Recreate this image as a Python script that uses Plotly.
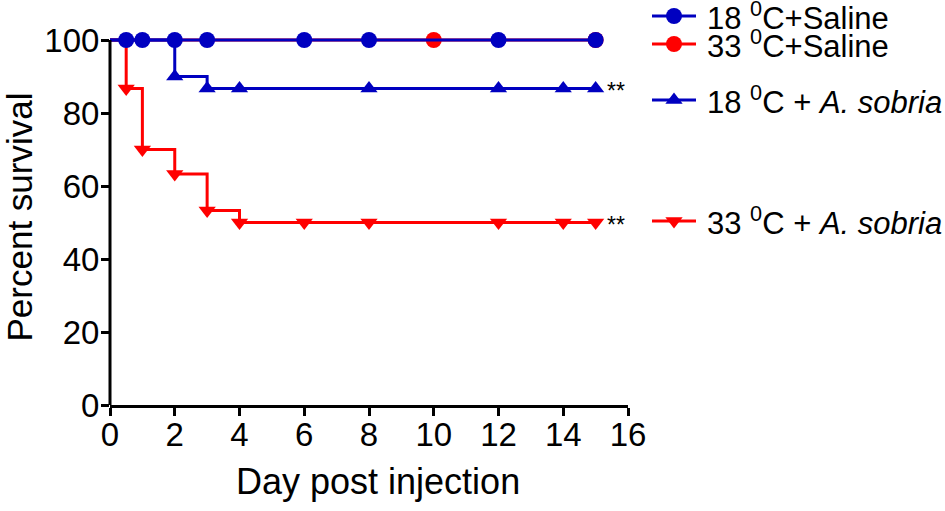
import plotly.graph_objects as go

# Kaplan-Meier survival, percent
days_18_saline = [0, 0.5, 1, 2, 3, 6, 8, 12, 15]
surv_18_saline = [100, 100, 100, 100, 100, 100, 100, 100, 100]

days_33_saline = [0, 10, 15]
surv_33_saline = [100, 100, 100]

days_18_sobria = [0, 2, 3, 4, 8, 12, 14, 15]
surv_18_sobria = [100, 90, 86.7, 86.7, 86.7, 86.7, 86.7, 86.7]

days_33_sobria = [0, 0.5, 1, 2, 3, 4, 6, 8, 12, 14, 15]
surv_33_sobria = [100, 86.7, 70, 63.3, 53.3, 50, 50, 50, 50, 50, 50]

labels = ["18 <sup>0</sup>C+Saline", "33 <sup>0</sup>C+Saline",
          "18 <sup>0</sup>C + <i>A. sobria</i>", "33 <sup>0</sup>C + <i>A. sobria</i>"]
signif_18 = "**"
signif_33 = "**"

BLUE = "#0000c0"
RED = "#ff0000"
FONT = "Liberation Sans, Arial, sans-serif"

series = [
    (days_33_saline, surv_33_saline, RED, "circle", 16),
    (days_33_sobria, surv_33_sobria, RED, "triangle-down", 15),
    (days_18_sobria, surv_18_sobria, BLUE, "triangle-up", 15),
    (days_18_saline, surv_18_saline, BLUE, "circle", 16),
]

fig = go.Figure()
for days, surv, color, symbol, size in series:
    # step line
    fig.add_trace(go.Scatter(x=days, y=surv, mode="lines", line_shape="hv",
                             line=dict(color=color, width=3), showlegend=False,
                             hoverinfo="skip"))
    # markers at events / censoring (not at time 0)
    fig.add_trace(go.Scatter(x=days[1:], y=surv[1:], mode="markers",
                             marker=dict(color=color, size=size, symbol=symbol),
                             cliponaxis=False, showlegend=False))

# significance stars
for d, s, txt in [(days_18_sobria, surv_18_sobria, signif_18),
                  (days_33_sobria, surv_33_sobria, signif_33)]:
    fig.add_annotation(x=d[-1], y=s[-1], text=txt, showarrow=False,
                       xanchor="left", xshift=9, yshift=-2,
                       font=dict(size=23, color="black", family=FONT))

# hand-made legend on a hidden pixel-like axis
legend_rows = [16, 44, 100, 221]
legend_style = [(BLUE, "circle", 16), (RED, "circle", 16),
                (BLUE, "triangle-up", 15), (RED, "triangle-down", 15)]
for row, (color, symbol, size), lab in zip(legend_rows, legend_style, labels):
    fig.add_trace(go.Scatter(x=[652, 674, 696], y=[row, row, row], mode="lines",
                             line=dict(color=color, width=3), xaxis="x2", yaxis="y2",
                             showlegend=False, hoverinfo="skip"))
    fig.add_trace(go.Scatter(x=[674], y=[row], mode="markers",
                             marker=dict(color=color, size=size, symbol=symbol),
                             xaxis="x2", yaxis="y2", cliponaxis=False,
                             showlegend=False, hoverinfo="skip"))
    fig.add_annotation(x=705, y=row, xref="x2", yref="y2", text=lab, showarrow=False,
                       xanchor="left", yanchor="middle",
                       font=dict(size=31, color="black", family=FONT))

# x axis title placed by hand
fig.add_annotation(x=0.321, y=-0.19, xref="paper", yref="paper", text="Day post injection",
                   showarrow=False, xanchor="center", yanchor="middle",
                   font=dict(size=36, color="black", family=FONT))

axis_common = dict(ticks="outside", ticklen=8, tickwidth=3, tickcolor="black",
                   showgrid=False, zeroline=False, automargin=False,
                   tickfont=dict(size=33, color="black", family=FONT))

ymax = 103
plot_h = 405
fig.update_layout(
    width=945, height=511,
    margin=dict(l=110, r=0, t=0, b=106),
    plot_bgcolor="white", paper_bgcolor="white",
    xaxis=dict(range=[0, 16], tickvals=list(range(0, 17, 2)), domain=[0, 518 / 835],
               showline=True, linecolor="black", linewidth=3, ticklabelstandoff=-10,
               **axis_common),
    yaxis=dict(range=[0, ymax], tickvals=list(range(0, 101, 20)),
               domain=[0, ymax * 3.65 / plot_h], showline=False, ticklabelstandoff=-5,
               title=dict(text="Percent survival", font=dict(size=35, color="black", family=FONT),
                          standoff=6),
               **axis_common),
    xaxis2=dict(domain=[526 / 835, 1], range=[636, 945], visible=False, anchor="y2"),
    yaxis2=dict(domain=[0, 1], range=[405, 0], visible=False, anchor="x2"),
    shapes=[dict(type="line", xref="paper", yref="y", x0=0, x1=0, y0=0, y1=100,
                 line=dict(color="black", width=3), layer="above")],
)

fig.write_html("out.html", config={"displayModeBar": False},
               post_script="document.body.style.margin='0';")
